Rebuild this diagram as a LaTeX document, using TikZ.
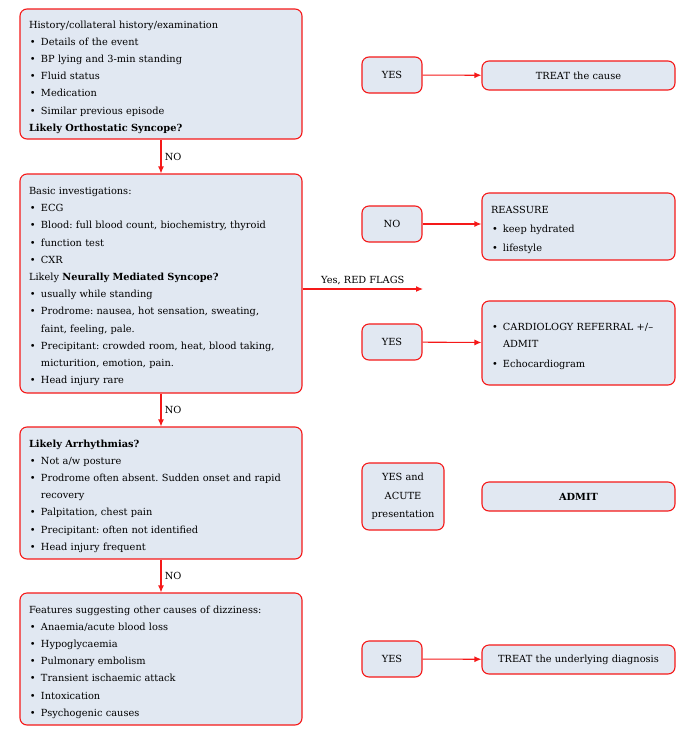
\documentclass[tikz,border=0pt]{standalone}
\usepackage{fontspec}
\setmainfont{DejaVu Serif}
\usetikzlibrary{arrows.meta}
\definecolor{flowred}{RGB}{245,25,25}
\definecolor{boxfill}{RGB}{225,232,242}
\newcommand{\bl}{\makebox[12pt][l]{\hspace{1pt}\textbullet}}
\newcommand{\ind}{\hspace*{12pt}}
\frenchspacing

\begin{document}
\begin{tikzpicture}[x=1pt,y=-1pt,
  box/.style={draw=flowred, fill=boxfill, line width=1.1pt, rounded corners=7pt},
  bigbox/.style={box, text width=264pt, inner xsep=9pt, inner ysep=0pt, align=left, font=\fontsize{9.8}{17.2}\selectfont, execute at begin node=\rule{0pt}{13.5pt}},
  ansbox/.style={box, minimum width=60pt, minimum height=36pt, inner sep=2pt, align=center, font=\fontsize{9.8}{18.5}\selectfont},
  endbox/.style={box, text width=175pt, inner xsep=9pt, inner ysep=0pt, minimum height=29pt, font=\fontsize{9.8}{19}\selectfont},
  listbox/.style={endbox, align=left, execute at begin node=\rule{0pt}{13.5pt}},
  lbl/.style={font=\fontsize{9.8}{11}\selectfont},
  link/.style={draw=flowred, line width=1.1pt, -{Latex[length=7pt,width=6pt]}}]
  \useasboundingbox (0,0) rectangle (697,729);

  % left column
  \node[bigbox, minimum height=130pt] (hist) at (161,74) {History/collateral history/examination\\
    \bl Details of the event\\
    \bl BP lying and 3-min standing\\
    \bl Fluid status\\
    \bl Medication\\
    \bl Similar previous episode\\
    \textbf{Likely Orthostatic Syncope?}};
  \node[bigbox, minimum height=219pt] (basic) at (161,283.5) {Basic investigations:\\
    \bl ECG\\
    \bl Blood: full blood count, biochemistry, thyroid\\
    \bl function test\\
    \bl CXR\\
    Likely \textbf{Neurally Mediated Syncope?}\\
    \bl usually while standing\\
    \bl Prodrome: nausea, hot sensation, sweating,\\
    \ind faint, feeling, pale.\\
    \bl Precipitant: crowded room, heat, blood taking,\\
    \ind micturition, emotion, pain.\\
    \bl Head injury rare};
  \node[bigbox, minimum height=132pt] (arrh) at (161,493) {\textbf{Likely Arrhythmias?}\\
    \bl Not a/w posture\\
    \bl Prodrome often absent. Sudden onset and rapid\\
    \ind recovery\\
    \bl Palpitation, chest pain\\
    \bl Precipitant: often not identified\\
    \bl Head injury frequent};
  \node[bigbox, minimum height=132pt] (other) at (161,659) {Features suggesting other causes of dizziness:\\
    \bl Anaemia/acute blood loss\\
    \bl Hypoglycaemia\\
    \bl Pulmonary embolism\\
    \bl Transient ischaemic attack\\
    \bl Intoxication\\
    \bl Psychogenic causes};

  % answers
  \node[ansbox] (yes1) at (392,75) {YES};
  \node[ansbox] (no2) at (392,224) {NO};
  \node[ansbox] (yes3) at (392,342) {YES};
  \node[ansbox, minimum width=82pt, minimum height=67pt] (yes4) at (403,496.5) {YES and\\ACUTE\\presentation};
  \node[ansbox] (yes5) at (392,659) {YES};

  % outcomes
  \node[endbox, align=center] (treat) at (578.5,75.5) {TREAT the cause};
  \node[listbox, minimum height=67pt] (reass) at (578.5,226.5) {REASSURE\\
    \bl keep hydrated\\
    \bl lifestyle};
  \node[listbox, minimum height=84pt] (cardio) at (578.5,343) {\bl CARDIOLOGY REFERRAL +/–\\[-2pt]
    \ind ADMIT\\[1pt]
    \bl Echocardiogram};
  \node[endbox, align=center] (admit) at (578.5,496.5) {\textbf{ADMIT}};
  \node[endbox, align=center] (treat2) at (578.5,659.5) {TREAT the underlying diagnosis};

  \coordinate (flag) at (423,289);

  \draw[link] (hist) -- node[right, lbl] {NO} (basic);
  \draw[link] (basic) -- node[right, lbl] {NO} (arrh);
  \draw[link] (arrh) -- node[right, lbl] {NO} (other);
  \draw[link] (basic.east |- flag) -- node[above, lbl] {Yes, RED FLAGS} (flag);
  \draw[link] (yes1) -- (treat);
  \draw[link] (no2.east) -- (no2.east -| reass.west);
  \draw[link] (yes3) -- (cardio);
  \draw[link] (yes5) -- (treat2);
\end{tikzpicture}
\end{document}
